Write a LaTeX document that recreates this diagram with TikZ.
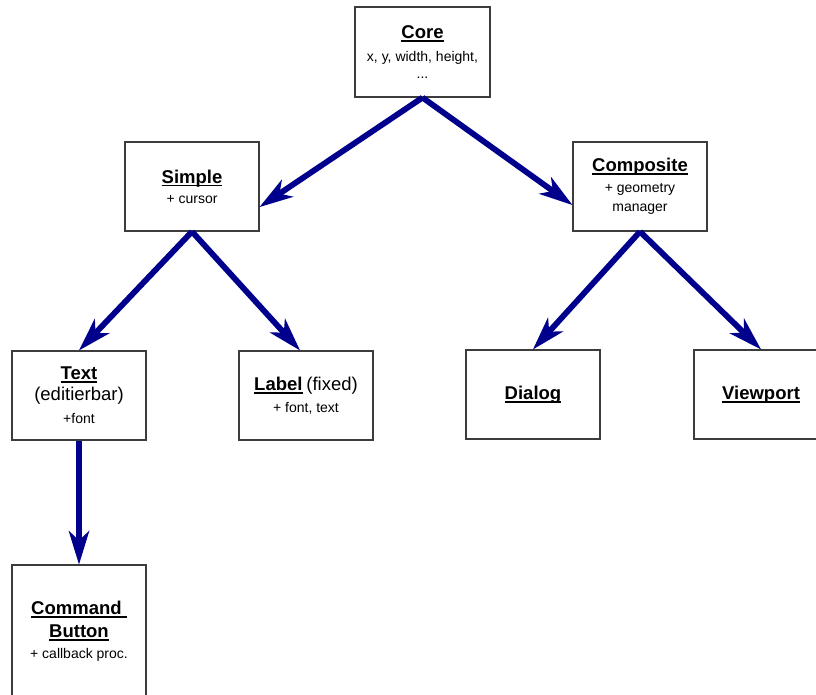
\documentclass[tikz,border=0pt]{standalone}
\usepackage{fontspec}
\setmainfont{Liberation Sans}
\usetikzlibrary{arrows.meta}
\definecolor{arrowblue}{RGB}{0,0,140}
\definecolor{boxline}{RGB}{60,60,60}
\newsavebox{\ttlbox}
\newcommand{\ttl}[1]{\sbox{\ttlbox}{\fontsize{18.5}{22}\selectfont\bfseries #1}\leavevmode\rlap{\rule[-3.3pt]{\wd\ttlbox}{1.7pt}}\usebox{\ttlbox}}
\newcommand{\bigtxt}[1]{{\fontsize{18.5}{22}\selectfont #1}}
\tikzset{
  box/.style={draw=boxline, line width=1.2pt, fill=white, rectangle,
    minimum width=134pt, minimum height=89pt, inner sep=0pt, align=center,
    font=\fontsize{14}{19}\selectfont},
  link/.style={draw=arrowblue, line width=5.8pt,
    -{Stealth[length=34pt,width=21pt,inset=10pt,line width=0pt]}}
}
\begin{document}
\begin{tikzpicture}[x=1pt,y=-1pt]
\useasboundingbox (0,0) rectangle (816,695);
\node[box, minimum width=135pt, minimum height=90pt] (core) at (422.5,52) {\ttl{Core}\\[4pt] x, y, width, height,\\[-2pt] ...};
\node[box] (simple) at (192,186.5) {\ttl{Simple}\\[1pt] + cursor};
\node[box] (composite) at (640,186.5) {\ttl{Composite}\\[2pt] + geometry\\ manager};
\node[box] (text) at (79,395.5) {\ttl{Text}\\[2pt]\bigtxt{(editierbar)}\\[4pt] +font};
\node[box] (label) at (306,395.5) {\ttl{Label} \bigtxt{(fixed)}\\[3pt] + font, text};
\node[box] (dialog) at (533,394.5) {\ttl{Dialog}};
\node[box] (viewport) at (761,394.5) {\ttl{Viewport}};
\node[box, minimum height=132pt] (button) at (79,631) {\ttl{Command\ }\\[4pt]\ttl{Button}\\[2pt] + callback proc.};
\draw[link] (core.south) -- ([yshift=-20.5pt]simple.east);
\draw[link] (core.south) -- ([yshift=-18.5pt]composite.west);
\draw[link] (simple.south) -- (text.north);
\draw[link] (simple.south) -- ([xshift=-6pt]label.north);
\draw[link] (composite.south) -- (dialog.north);
\draw[link] (composite.south) -- (viewport.north);
\draw[link] (text.south) -- (button.north);
\end{tikzpicture}
\end{document}
